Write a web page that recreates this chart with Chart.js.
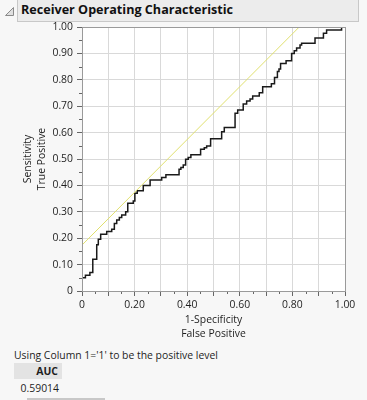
<!DOCTYPE html>
<html>
<head>
<meta charset="utf-8">
<script src="https://cdn.jsdelivr.net/npm/chart.js@4.4.1/dist/chart.umd.min.js"></script>
<style>
  html, body { margin:0; padding:0; width:367px; height:400px; overflow:hidden; background:#f7f7f7; font-family:"Open Sans", "Noto Sans", sans-serif; color:#1e1e1e; }
  #hdr { position:absolute; left:17px; top:-1px; width:342px; height:23px; background:#ececec; border:1px solid #c8c8c8; box-sizing:border-box; }
  #hdrText { position:absolute; left:3px; top:1px; font-weight:bold; font-size:12.6px; line-height:18px; color:#111; white-space:nowrap; }
  #tri { position:absolute; left:5px; top:7px; }
  #wrap { position:absolute; left:0; top:0; width:367px; height:345px; }
  #note { position:absolute; left:14px; top:347px; font-size:10.4px; line-height:16px; white-space:nowrap; }
  #aucHead { position:absolute; left:14px; top:363px; width:48px; height:16px; background:#e3e3e3; font-weight:bold; font-size:10.4px; line-height:16px; text-align:right; box-sizing:border-box; padding-right:4px; }
  #aucVal { position:absolute; left:14px; top:380px; width:48px; font-size:10.4px; line-height:16px; text-align:right; box-sizing:border-box; padding-right:3px; }
  #bar { position:absolute; left:27px; top:398px; width:78px; height:2px; background:#c8c8c8; }
</style>
</head>
<body>
<svg id="tri" width="10" height="10" viewBox="0 0 10 10"><polygon points="8.5,0.5 8.5,8.5 0.5,8.5" fill="#e0e0e0" stroke="#8a8a8a" stroke-width="1"/></svg>
<div id="hdr"><span id="hdrText"></span></div>
<div id="wrap"><canvas id="c" width="367" height="345"></canvas></div>
<div id="note"></div>
<div id="aucHead"></div>
<div id="aucVal"></div>
<div id="bar"></div>
<script>
// ---- text ----
const chartTitle = "Receiver Operating Characteristic";
const xTitle = ["1-Specificity", "False Positive"];
const yTitle = ["Sensitivity", "True Positive"];
const noteText = "Using Column 1='1' to be the positive level";
const aucLabel = "AUC";
const aucValue = "0.59014";

// ---- tick labels ----
const xTickValues = [0, 0.2, 0.4, 0.6, 0.8, 1.0];
const xTickLabels = ["0", "0.20", "0.40", "0.60", "0.80", "1.00"];
const yTickValues = [0, 0.1, 0.2, 0.3, 0.4, 0.5, 0.6, 0.7, 0.8, 0.9, 1.0];
const yTickLabels = ["0", "0.10", "0.20", "0.30", "0.40", "0.50", "0.60", "0.70", "0.80", "0.90", "1.00"];

// ---- ROC curve vertices (1-Specificity, Sensitivity) ----
const fpr = [0, 0, 0.013, 0.013, 0.030, 0.030, 0.041, 0.041, 0.056, 0.056, 0.062, 0.062, 0.071, 0.071,
  0.094, 0.094, 0.113, 0.113, 0.123, 0.123, 0.132, 0.132, 0.142, 0.142, 0.151, 0.151, 0.166, 0.166,
  0.174, 0.174, 0.195, 0.195, 0.201, 0.201, 0.210, 0.210, 0.233, 0.233, 0.259, 0.259, 0.303, 0.303,
  0.319, 0.319, 0.369, 0.369, 0.376, 0.376, 0.385, 0.385, 0.394, 0.394, 0.404, 0.404, 0.414, 0.414,
  0.451, 0.451, 0.465, 0.465, 0.474, 0.474, 0.489, 0.489, 0.531, 0.531, 0.541, 0.541, 0.582, 0.582,
  0.592, 0.592, 0.613, 0.613, 0.626, 0.626, 0.639, 0.639, 0.649, 0.649, 0.674, 0.674, 0.687, 0.687,
  0.720, 0.720, 0.732, 0.732, 0.743, 0.743, 0.749, 0.749, 0.755, 0.755, 0.776, 0.776, 0.797, 0.797,
  0.807, 0.807, 0.816, 0.816, 0.829, 0.829, 0.835, 0.835, 0.886, 0.886, 0.918, 0.918, 0.930, 0.930,
  0.987, 0.987, 1.0];
const tpr = [0, 0.050, 0.050, 0.060, 0.060, 0.070, 0.070, 0.120, 0.120, 0.175, 0.175, 0.196, 0.196, 0.215,
  0.215, 0.225, 0.225, 0.234, 0.234, 0.256, 0.256, 0.269, 0.269, 0.278, 0.278, 0.288, 0.288, 0.300,
  0.300, 0.332, 0.332, 0.341, 0.341, 0.370, 0.370, 0.380, 0.380, 0.400, 0.400, 0.420, 0.420, 0.430,
  0.430, 0.440, 0.440, 0.461, 0.461, 0.468, 0.468, 0.477, 0.477, 0.499, 0.499, 0.506, 0.506, 0.516,
  0.516, 0.537, 0.537, 0.543, 0.543, 0.549, 0.549, 0.577, 0.577, 0.603, 0.603, 0.619, 0.619, 0.673,
  0.673, 0.686, 0.686, 0.708, 0.708, 0.720, 0.720, 0.727, 0.727, 0.739, 0.739, 0.751, 0.751, 0.774,
  0.774, 0.785, 0.785, 0.809, 0.809, 0.831, 0.831, 0.841, 0.841, 0.862, 0.862, 0.872, 0.872, 0.900,
  0.900, 0.910, 0.910, 0.920, 0.920, 0.932, 0.932, 0.938, 0.938, 0.958, 0.958, 0.976, 0.976, 0.989,
  0.989, 1.0, 1.0];

// ---- tangent line (slope 1) ----
const tangentX = [0, 0.826];
const tangentY = [0.174, 1.0];

document.getElementById('hdrText').textContent = chartTitle;
document.getElementById('note').textContent = noteText;
document.getElementById('aucHead').textContent = aucLabel;
document.getElementById('aucVal').textContent = aucValue;

const FONT = "'Open Sans', 'Noto Sans', sans-serif";
const FS = 10.4;

function labelFor(values, labels, v) {
  for (let i = 0; i < values.length; i++) if (Math.abs(values[i] - v) < 1e-6) return labels[i];
  return '';
}

const framePlugin = {
  id: 'frame',
  beforeDraw(chart) {
    const {ctx, chartArea: a} = chart;
    ctx.save();
    ctx.fillStyle = '#ffffff';
    ctx.fillRect(a.left, a.top, a.right - a.left, a.bottom - a.top);
    ctx.restore();
  },
  afterDraw(chart) {
    const {ctx, chartArea: a, scales} = chart;
    ctx.save();
    ctx.strokeStyle = '#666666';
    ctx.lineWidth = 1;
    ctx.beginPath();
    for (let k = 0; k < 10; k++) {
      const v = k / 10 + 0.05;
      const px = Math.round(scales.x.getPixelForValue(v)) + 0.5;
      ctx.moveTo(px, a.bottom); ctx.lineTo(px, a.bottom + 3);
      const py = Math.round(scales.y.getPixelForValue(v)) + 0.5;
      ctx.moveTo(a.left - 3, py); ctx.lineTo(a.left, py);
    }
    ctx.stroke();
    ctx.strokeStyle = '#9a9a9a';
    ctx.strokeRect(Math.round(a.left) + 0.5, Math.round(a.top) + 0.5, Math.round(a.right - a.left), Math.round(a.bottom - a.top));
    ctx.restore();
  }
};

new Chart(document.getElementById('c'), {
  type: 'scatter',
  data: {
    datasets: [
      {
        label: 'Tangent',
        data: tangentX.map((x, i) => ({x, y: tangentY[i]})),
        showLine: true, borderColor: 'rgb(224,224,110)', borderWidth: 1, pointRadius: 0, tension: 0
      },
      {
        label: 'ROC',
        data: fpr.map((x, i) => ({x, y: tpr[i]})),
        showLine: true, borderColor: '#1a1a1a', borderWidth: 1.5, pointRadius: 0, tension: 0
      }
    ]
  },
  options: {
    responsive: false,
    animation: false,
    devicePixelRatio: 1,
    layout: { padding: { left: 0, top: 27, right: 22, bottom: 0 } },
    plugins: { legend: { display: false }, tooltip: { enabled: false } },
    scales: {
      x: {
        type: 'linear', min: 0, max: 1,
        afterFit(s) { s.height = 54; },
        ticks: { stepSize: 0.1, autoSkip: false, maxRotation: 0, padding: 3, color: '#1e1e1e',
          font: { family: FONT, size: FS },
          callback: (v) => labelFor(xTickValues, xTickLabels, v) },
        grid: { color: '#d9d9d9', lineWidth: 1, tickColor: '#666666', tickLength: 5 },
        border: { color: '#8a8a8a' },
        title: { display: true, text: xTitle, color: '#1e1e1e', font: { family: FONT, size: FS, lineHeight: 1.35 }, padding: { top: 0, bottom: 4 } }
      },
      y: {
        type: 'linear', min: 0, max: 1,
        afterFit(s) { s.width = 82; },
        ticks: { stepSize: 0.1, autoSkip: false, padding: 4, color: '#1e1e1e',
          font: { family: FONT, size: FS },
          callback: (v) => labelFor(yTickValues, yTickLabels, v) },
        grid: { color: '#d9d9d9', lineWidth: 1, tickColor: '#666666', tickLength: 5 },
        border: { color: '#8a8a8a' },
        title: { display: true, text: yTitle, color: '#1e1e1e', font: { family: FONT, size: FS, lineHeight: 1.3 }, padding: { top: 21.5, bottom: 0 } }
      }
    }
  },
  plugins: [framePlugin]
});
</script>
</body>
</html>
